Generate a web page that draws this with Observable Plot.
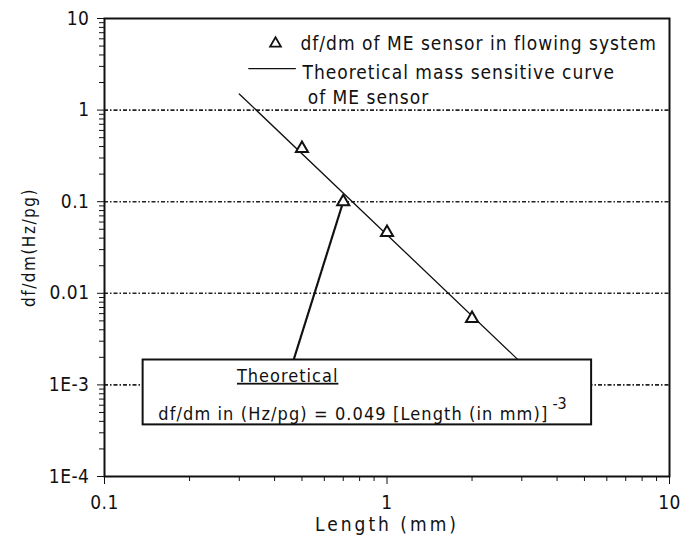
<!DOCTYPE html>
<html>
<head>
<meta charset="utf-8">
<script src="https://cdn.jsdelivr.net/npm/d3@7"></script>
<script src="https://cdn.jsdelivr.net/npm/@observablehq/plot@0.6"></script>
<style>
  html, body { margin: 0; padding: 0; background: #fff; }
  #chart { width: 691px; height: 543px; }
</style>
</head>
<body>
<div id="chart"></div>
<script>
// Measured points: df/dm of ME sensor in flowing system
const lengthMM = [0.5, 0.7, 1.0, 2.0];
const sensitivity = [0.38, 0.10, 0.046, 0.0053];
// Theoretical mass sensitive curve (end points as drawn)
const theoryLength = [0.30, 2.9];
const theorySens = [1.5, 0.0019];
// Axis ticks
const yTickValues = [1e-4, 1e-3, 0.01, 0.1, 1, 10];
const yTickLabels = ["1E-4", "1E-3", "0.01", "0.1", "1", "10"];
const xTickValues = [0.1, 1, 10];
const xTickLabels = ["0.1", "1", "10"];
const gridValues = [0.001, 0.01, 0.1, 1];
// Annotation box and its leader (data coordinates)
const boxLength = [0.137, 5.3];
const boxSens = [0.000366, 0.00187];
const leaderLength = [0.467, 0.7];
const leaderSens = [0.00187, 0.1];
const boxTitle = "Theoretical";
const boxFormula = "df/dm in (Hz/pg) = 0.049 [Length (in mm)]";
const boxExponent = "-3";
// Legend
const legendLabels = ["df/dm of ME sensor in flowing system", "Theoretical mass sensitive curve", "of ME sensor"];
const xTitle = "Length (mm)";
const yTitle = "df/dm(Hz/pg)";

const FONT = "'DejaVu Sans Condensed', 'DejaVu Sans', sans-serif";

const points = lengthMM.map((x, i) => ({x, y: sensitivity[i]}));
const theory = theoryLength.map((x, i) => ({x, y: theorySens[i]}));
const leader = leaderLength.map((x, i) => ({x, y: leaderSens[i]}));

const minorY = [];
for (let e = -4; e < 1; e++) for (let k = 2; k <= 9; k++) minorY.push(k * Math.pow(10, e));
const minorX = [];
for (let e = -1; e < 1; e++) for (let k = 2; k <= 9; k++) minorX.push(k * Math.pow(10, e));

const plot = Plot.plot({
  width: 691,
  height: 543,
  marginLeft: 104,
  marginRight: 22,
  marginTop: 18,
  marginBottom: 67,
  style: {fontFamily: FONT, fontSize: "19px", color: "#111", background: "#fff"},
  x: {type: "log", domain: [0.1, 10], axis: null},
  y: {type: "log", domain: [1e-4, 10], axis: null},
  marks: [
    Plot.ruleY(gridValues, {stroke: "#222", strokeWidth: 1.6, strokeDasharray: "4,2,1.5,2"}),
    Plot.axisY(minorY, {tickSize: 5, tickFormat: () => "", label: null, stroke: "#111"}),
    Plot.axisY(yTickValues, {tickSize: 7, tickPadding: 8, label: null, stroke: "#111", fontSize: 19,
      tickFormat: d => yTickLabels[yTickValues.indexOf(d)]}),
    Plot.axisX(minorX, {tickSize: 5, tickFormat: () => "", label: null, stroke: "#111"}),
    Plot.axisX(xTickValues, {tickSize: 8, tickPadding: 11, label: null, stroke: "#111", fontSize: 19,
      tickFormat: d => xTickLabels[xTickValues.indexOf(d)]}),
    Plot.line(theory, {x: "x", y: "y", stroke: "#111", strokeWidth: 1.3}),
    Plot.line(leader, {x: "x", y: "y", stroke: "#111", strokeWidth: 2.2, strokeDasharray: "2,1"}),
    Plot.dot(points, {x: "x", y: "y", symbol: "triangle", r: 4.5, stroke: "#111", strokeWidth: 2, fill: "#fff"}),
    Plot.rect([0], {x1: boxLength[0], x2: boxLength[1], y1: boxSens[0], y2: boxSens[1], fill: "#fff", stroke: "#111", strokeWidth: 2}),
    Plot.text([boxTitle], {x: 0.445, y: 0.00125, text: d => d, fontSize: 18, fill: "#111", textAnchor: "middle"}),
    Plot.text([boxFormula], {x: 0.155, y: 0.000482, text: d => d, fontSize: 18, fill: "#111", textAnchor: "start"}),
    Plot.text([boxExponent], {x: 3.85, y: 0.00062, text: d => d, fontSize: 16, fill: "#111", textAnchor: "start"}),
    // legend
    Plot.dot([0], {x: 0.403, y: 5.33, symbol: "triangle", r: 4, stroke: "#111", strokeWidth: 1.8, fill: "#fff"}),
    Plot.line([{x: 0.324, y: 2.84}, {x: 0.474, y: 2.84}], {x: "x", y: "y", stroke: "#111", strokeWidth: 1.3}),
    Plot.text([legendLabels[0]], {x: 0.494, y: 5.33, text: d => d, fontSize: 19, fill: "#111", textAnchor: "start"}),
    Plot.text([legendLabels[1]], {x: 0.502, y: 2.57, text: d => d, fontSize: 19, fill: "#111", textAnchor: "start"}),
    Plot.text([legendLabels[2]], {x: 0.524, y: 1.37, text: d => d, fontSize: 19, fill: "#111", textAnchor: "start"}),
    // axis titles
    Plot.text([yTitle], {frameAnchor: "left", textAnchor: "middle", dx: -75, rotate: -90, text: d => d, fontSize: 17, fill: "#111"}),
    Plot.text([xTitle], {frameAnchor: "bottom", textAnchor: "middle", dy: 54, text: d => d, fontSize: 19, fill: "#111"}),
    Plot.frame({stroke: "#111", strokeWidth: 2})
  ]
});

d3.select(plot).selectAll("text").each(function() {
  const t = this.textContent;
  if (t === boxTitle) { this.style.textDecoration = "underline"; this.style.letterSpacing = "1px"; }
  else if (t === boxFormula) this.style.letterSpacing = "1.1px";
  else if (legendLabels.includes(t)) this.style.letterSpacing = "1px";
  else if (t === xTitle) this.style.letterSpacing = "3px";
  else if (t === yTitle) this.style.letterSpacing = "1.5px";
  else if (yTickLabels.includes(t) || xTickLabels.includes(t)) this.style.letterSpacing = "0.5px";
});
document.getElementById("chart").appendChild(plot);
</script>
</body>
</html>
